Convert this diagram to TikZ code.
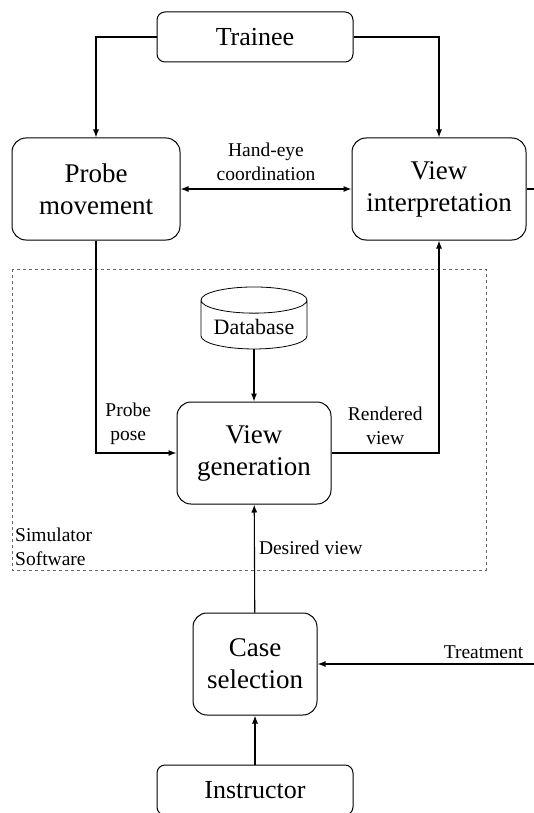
\documentclass[tikz,border=0pt]{standalone}
\usepackage{fontspec}
\setmainfont{Liberation Serif}
\usetikzlibrary{arrows.meta,shapes.geometric}

\begin{document}
\begin{tikzpicture}[x=1pt,y=-1pt,
    box/.style   = {rectangle,rounded corners=14pt,draw,line width=1pt,align=center,
                    font=\fontsize{27}{32}\selectfont,minimum width=#1,minimum height=102pt},
    box/.default = 160pt,
    actor/.style = {rectangle,rounded corners=8pt,draw,line width=1pt,
                    font=\fontsize{26}{30}\selectfont,minimum width=196pt,minimum height=50pt},
    store/.style = {cylinder,shape border rotate=90,aspect=0.3,draw,line width=0.8pt,
                    font=\fontsize{22}{24}\selectfont,minimum width=106pt,minimum height=62pt},
    fl/.style    = {-{Latex[length=8pt,width=6pt]},line width=1.1pt},
    lab/.style   = {font=\fontsize{19.5}{24}\selectfont,align=center,inner sep=2pt},
  ]
  \useasboundingbox (0,0) rectangle (534,813);

  \node[actor]     (trainee)    at (255,37)  {Trainee};
  \node[box=168pt] (probe)      at (96,189)  {Probe\\movement};
  \node[box=174pt] (interp)     at (439,189) {View\\interpretation};
  \node[store]     (db)         at (254,327) {Database};
  \node[box=154pt] (viewgen)    at (254,453) {View\\generation};
  \node[box=124pt] (casesel)    at (255,664) {Case\\selection};
  \node[actor]     (instructor) at (255,790) {Instructor};

  \coordinate (out)   at (545,189);
  \coordinate (treat) at (545,664);

  % Simulator software
  \draw[dashed,gray!80!black,line width=0.7pt] (12,269) rectangle (486,570);
  \node[lab,align=left,anchor=south west] (simsw) at (13,568) {Simulator\\Software};

  \draw[fl] (trainee.west) -| (probe.north);
  \draw[fl] (trainee.east) -| (interp.north);
  \draw[fl,{Latex[length=8pt,width=6pt]}-{Latex[length=8pt,width=6pt]}] (probe) --
        node[lab,above=6pt] {Hand-eye\\coordination} (interp);
  \draw[line width=1.1pt] (interp) -- (out);

  \draw[fl] (db) -- (viewgen);
  \draw[fl] (probe.south) |- node[lab,above=6pt,pos=0.7] {Probe\\pose} (viewgen.west);
  \draw[fl] (viewgen.east) -| node[lab,above=6pt,pos=0.25] {Rendered\\view} (interp.south);
  \draw[fl] (casesel) -- node[lab,right=2pt,pos=0.6] {Desired view} (viewgen);

  \draw[fl] (treat) -- node[lab,above=3pt,pos=0.27] {Treatment} (casesel);
  \draw[fl] (instructor) -- (casesel);
\end{tikzpicture}
\end{document}
